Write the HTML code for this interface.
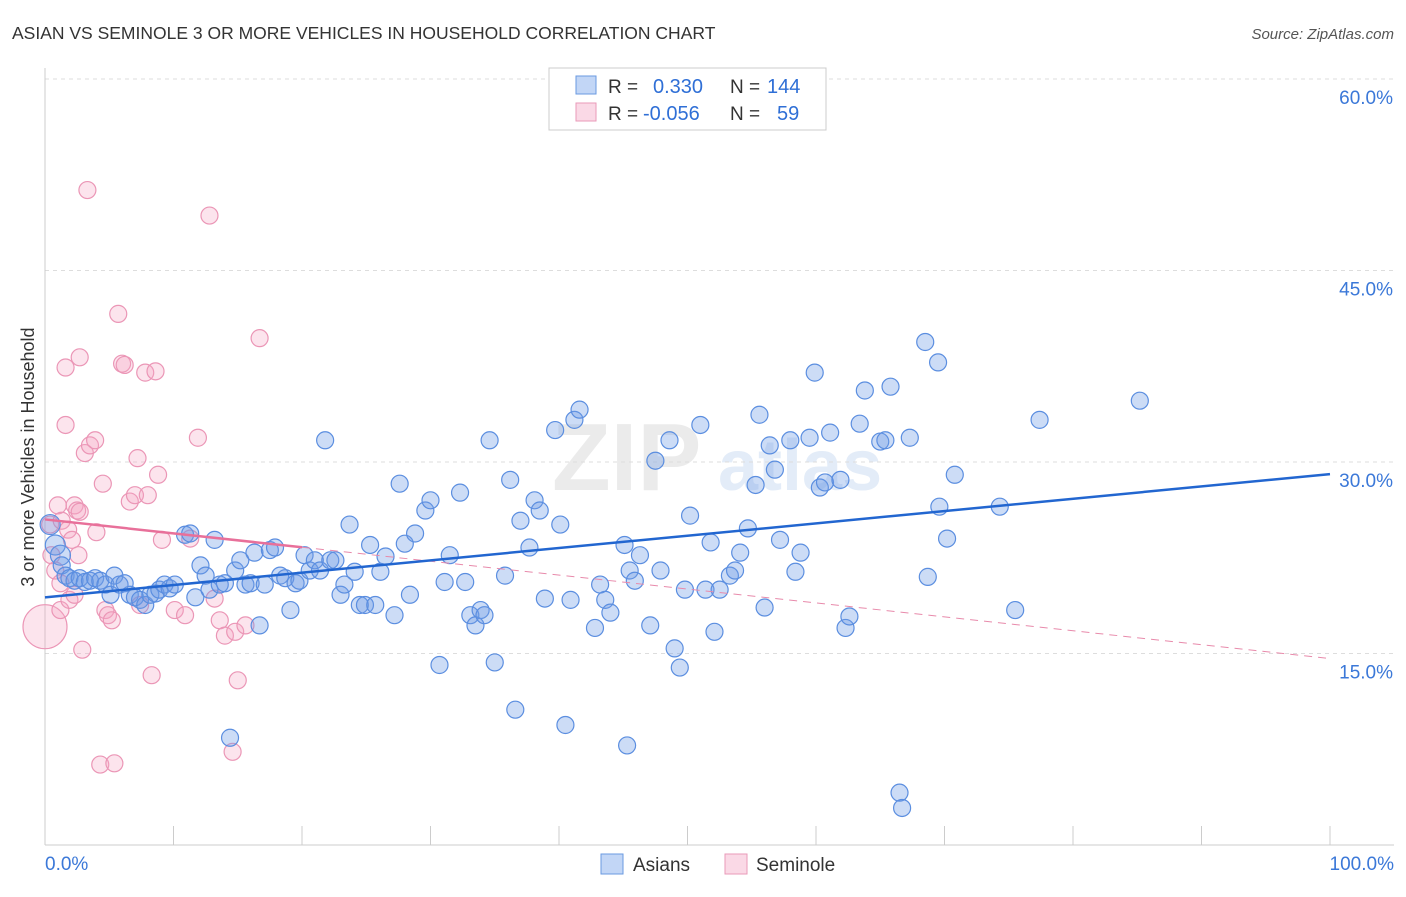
<!DOCTYPE html>
<html><head><meta charset="utf-8"><style>
body{margin:0;background:#fff;font-family:"Liberation Sans",sans-serif;}
svg text{font-family:"Liberation Sans",sans-serif;}
</style></head><body>
<svg id="chart" width="1406" height="892" xmlns="http://www.w3.org/2000/svg">
<text x="12" y="39" font-size="17.5" fill="#333">ASIAN VS SEMINOLE 3 OR MORE VEHICLES IN HOUSEHOLD CORRELATION CHART</text>
<text x="1394" y="39" font-size="15" fill="#555" text-anchor="end" font-style="italic">Source: ZipAtlas.com</text>
<g>
<text x="552" y="490" font-size="96" fill="#ebebeb" font-family="Liberation Serif" font-weight="bold">ZIP</text>
<text x="718" y="490" font-size="72" fill="#e3ecf8" font-weight="bold">atlas</text>
</g>
<g id="grid"></g><g id="axes"></g><g id="points"></g><g id="trends"></g>
<text transform="translate(34,457) rotate(-90)" font-size="18" fill="#333" text-anchor="middle">3 or more Vehicles in Household</text>
<g>
<rect x="549" y="68" width="277" height="62" fill="#fff" stroke="#ccc"/>
<rect x="576" y="76" width="20" height="18" fill="rgba(120,165,235,0.45)" stroke="#6a9ae0"/>
<rect x="576" y="103" width="20" height="18" fill="rgba(245,170,200,0.45)" stroke="#e99ab8"/>
<text x="608" y="93" font-size="19" fill="#333">R =</text>
<text x="653" y="93" font-size="20" fill="#2f6fd6">0.330</text>
<text x="730" y="93" font-size="19" fill="#333">N =</text>
<text x="767" y="93" font-size="20" fill="#2f6fd6">144</text>
<text x="608" y="120" font-size="19" fill="#333">R =</text>
<text x="643" y="120" font-size="20" fill="#2f6fd6">-0.056</text>
<text x="730" y="120" font-size="19" fill="#333">N =</text>
<text x="777" y="120" font-size="20" fill="#2f6fd6">59</text>
</g>
<g>
<rect x="601" y="854" width="22" height="20" fill="rgba(120,165,235,0.45)" stroke="#6a9ae0"/>
<text x="633" y="871" font-size="19" fill="#333">Asians</text>
<rect x="725" y="854" width="22" height="20" fill="rgba(245,170,200,0.45)" stroke="#e99ab8"/>
<text x="756" y="871" font-size="19" fill="#333">Seminole</text>
</g>
</svg>
<script>
const blueX=[0.4,0.8,1.2,1.3,1.6,1.9,2.3,2.7,3.1,3.5,3.9,4.3,4.7,5.1,5.4,5.8,6.2,6.6,7.0,7.4,7.8,8.2,8.6,8.9,9.3,9.7,10.1,10.9,11.3,11.7,12.1,12.5,12.8,13.2,13.6,14.0,14.4,14.8,15.2,15.6,16.0,16.3,16.7,17.1,17.5,17.9,18.3,18.7,19.1,19.5,19.8,20.2,20.6,21.0,21.4,21.8,22.2,22.6,23.0,23.3,23.7,24.1,24.5,24.9,25.3,25.7,26.1,26.5,27.2,27.6,28.0,28.4,28.8,29.6,30.0,30.7,31.1,31.5,32.3,32.7,33.1,33.5,33.9,34.2,34.6,35.0,35.8,36.2,36.6,37.0,37.7,38.1,38.5,38.9,39.7,40.1,40.5,40.9,41.2,41.6,42.8,43.2,43.6,44.0,45.1,45.3,45.5,45.9,46.3,47.1,47.5,47.9,48.6,49.0,49.4,49.8,50.2,51.0,51.4,51.8,52.1,52.5,53.3,53.7,54.1,54.7,55.3,55.6,56.0,56.4,56.8,57.2,58.0,58.4,58.8,59.5,59.9,60.3,60.7,61.1,61.9,62.3,62.6,63.4,63.8,65.0,65.4,65.8,66.5,66.7,67.3,68.5,68.7,69.5,69.6,70.2,70.8,74.3,75.5,77.4,85.2];
const blueY=[25.1,23.5,22.7,21.9,21.1,20.9,20.7,20.9,20.6,20.7,20.9,20.7,20.4,19.6,21.1,20.4,20.5,19.6,19.4,19.2,18.8,19.6,19.7,20.0,20.4,20.1,20.4,24.3,24.4,19.4,21.9,21.1,20.0,23.9,20.4,20.5,8.4,21.5,22.3,20.4,20.5,22.9,17.2,20.4,23.1,23.3,21.1,20.9,18.4,20.5,20.7,22.7,21.5,22.3,21.5,31.7,22.3,22.3,19.6,20.4,25.1,21.4,18.8,18.8,23.5,18.8,21.4,22.6,18.0,28.3,23.6,19.6,24.4,26.2,27.0,14.1,20.6,22.7,27.6,20.6,18.0,17.2,18.4,18.0,31.7,14.3,21.1,28.6,10.6,25.4,23.3,27.0,26.2,19.3,32.5,25.1,9.4,19.2,33.3,34.1,17.0,20.4,19.2,18.2,23.5,7.8,21.5,20.7,22.7,17.2,30.1,21.5,31.7,15.4,13.9,20.0,25.8,32.9,20.0,23.7,16.7,20.0,21.1,21.5,22.9,24.8,28.2,33.7,18.6,31.3,29.4,23.9,31.7,21.4,22.9,31.9,37.0,28.0,28.4,32.3,28.6,17.0,17.9,33.0,35.6,31.6,31.7,35.9,4.1,2.9,31.9,39.4,21.0,37.8,26.5,24.0,29.0,26.5,18.4,33.3,34.8];
const pinkX=[0,0.4,0.5,0.8,1.0,1.2,1.3,1.6,1.8,1.9,2.1,2.3,2.5,2.6,2.7,2.9,3.1,3.3,3.5,3.9,4.0,4.3,4.5,4.7,4.9,5.2,5.4,5.7,6.0,6.2,6.6,7.0,7.2,7.4,7.8,8.0,8.6,8.3,8.8,9.1,10.1,10.9,11.3,11.9,12.8,13.2,13.6,14.0,14.6,14.8,15.0,15.6,16.7,2.7,1.6,2.3,1.2];
const pinkY=[17.1,25.1,22.7,21.5,26.6,18.4,25.4,32.9,24.7,19.2,23.9,26.6,26.2,22.7,26.1,15.3,30.7,51.3,31.3,31.7,24.5,6.3,28.3,18.4,18.0,17.6,6.4,41.6,37.7,37.6,26.9,27.4,30.3,18.8,37.0,27.4,37.1,13.3,29.0,23.9,18.4,18.0,24.0,31.9,49.3,19.3,17.6,16.4,7.3,16.7,12.9,17.2,39.7,38.2,37.4,19.6,20.5];
const blueTrend=[19.4,29.05];
const pinkTrend=[25.5,14.6];
const pinkSolidEnd=20;
const yTicks=[15,30,45,60];
const xTicks=[0,10,20,30,40,50,60,70,80,90,100];
const NS='http://www.w3.org/2000/svg';
const X=v=>45+v*12.85, Y=v=>845-v*12.767;
function mk(tag,attrs,parent){const e=document.createElementNS(NS,tag);for(const k in attrs)e.setAttribute(k,attrs[k]);document.getElementById(parent).appendChild(e);return e;}
yTicks.forEach(t=>{
 const l=mk('line',{x1:45,x2:1394,y1:Y(t),y2:Y(t),stroke:'#ddd','stroke-dasharray':'4,4'},'grid');
 
 
 const tx=mk('text',{x:1393,y:Y(t)+25,'font-size':19,fill:'#3b78d8','text-anchor':'end'},'grid');
 tx.textContent=t.toFixed(1)+'%';
 
 
});
const ax=mk('line',{x1:45,x2:1394,y1:845,y2:845,stroke:'#ccc'},'axes');


const ay=mk('line',{x1:45,x2:45,y1:68,y2:845,stroke:'#ccc'},'axes');


xTicks.forEach(t=>{const l=mk('line',{x1:X(t),x2:X(t),y1:826,y2:845,stroke:'#ccc'},'axes');
 
 });
[[0,'0.0%','start',45],[100,'100.0%','end',1394]].forEach(a=>{const t=mk('text',{x:a[3],y:870,'font-size':19,fill:'#3b78d8','text-anchor':a[2]},'axes');t.textContent=a[1];
 
 });
pinkX.forEach((v,i)=>{const c=mk('circle',{cx:X(v),cy:Y(pinkY[i]),r:i===0?22:8.5,fill:'rgba(245,165,195,0.3)',stroke:'#eb96b6','stroke-width':1.2},'points');
 
 });
blueX.forEach((v,i)=>{const c=mk('circle',{cx:X(v),cy:Y(blueY[i]),r:i<3?10:8.5,fill:'rgba(110,155,230,0.35)',stroke:'#5b8ee0','stroke-width':1.2},'points');
 
 });
const pv=x=>pinkTrend[0]+(pinkTrend[1]-pinkTrend[0])*x/100;
const pd=mk('line',{x1:X(pinkSolidEnd),y1:Y(pv(pinkSolidEnd)),x2:X(100),y2:Y(pinkTrend[1]),stroke:'#e88aab','stroke-width':1,'stroke-dasharray':'8,6'},'trends');


const ps=mk('line',{x1:X(0),y1:Y(pinkTrend[0]),x2:X(pinkSolidEnd),y2:Y(pv(pinkSolidEnd)),stroke:'#e8709a','stroke-width':2.5},'trends');


const bl=mk('line',{x1:X(0),y1:Y(blueTrend[0]),x2:X(100),y2:Y(blueTrend[1]),stroke:'#2266d0','stroke-width':2.5},'trends');


</script>
</body></html>
